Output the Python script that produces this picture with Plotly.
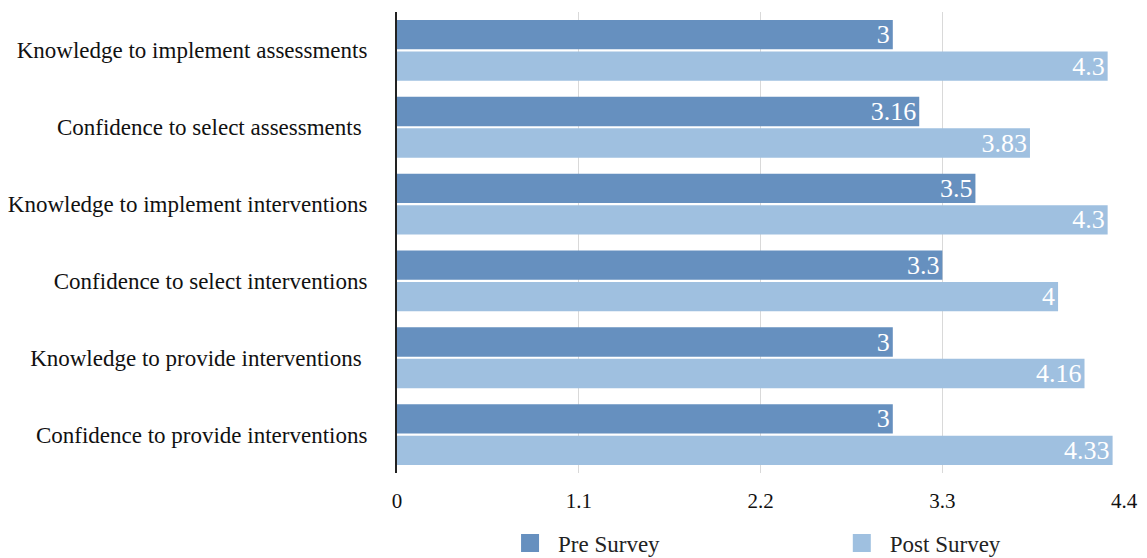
import plotly.graph_objects as go

categories = [
    "Knowledge to implement assessments",
    "Confidence to select assessments ",
    "Knowledge to implement interventions",
    "Confidence to select interventions",
    "Knowledge to provide interventions ",
    "Confidence to provide interventions",
]
pre_survey = [3, 3.16, 3.5, 3.3, 3, 3]
post_survey = [4.3, 3.83, 4.3, 4, 4.16, 4.33]
x_ticks = [0, 1.1, 2.2, 3.3, 4.4]
x_tick_labels = ["0", "1.1", "2.2", "3.3", "4.4"]

FONT = "Liberation Serif"
PRE_COLOR = "#6690BF"
POST_COLOR = "#9FC0E0"

fig = go.Figure()
for name, vals, color in [("Pre Survey", pre_survey, PRE_COLOR),
                          ("Post Survey", post_survey, POST_COLOR)]:
    fig.add_trace(go.Bar(
        y=categories, x=vals, orientation="h", name=name,
        marker=dict(color=color, line=dict(width=0)),
        text=[f"{v:g}" for v in vals], textposition="inside",
        insidetextanchor="end", textangle=0, constraintext="none",
        textfont=dict(family=FONT, size=26, color="white"),
        showlegend=False, cliponaxis=False,
    ))
# legend entries (one legend box per series, positioned like the original)
for name, color, leg in [("Pre Survey", PRE_COLOR, "legend"),
                         ("Post Survey", POST_COLOR, "legend2")]:
    fig.add_trace(go.Scatter(
        x=[None], y=[None], mode="markers", name=name, legend=leg,
        marker=dict(symbol="square", size=20, color=color,
                    line=dict(width=2, color=color)),
        showlegend=True,
    ))

legend_common = dict(
    orientation="h", xanchor="left", yanchor="middle", y=-0.152,
    font=dict(family=FONT, size=23, color="#222"),
    itemwidth=46, bgcolor="rgba(0,0,0,0)",
)

fig.update_layout(
    width=1147, height=558,
    paper_bgcolor="white", plot_bgcolor="white",
    margin=dict(l=397, r=22, t=12, b=85, autoexpand=False),
    barmode="group", bargap=0.18, bargroupgap=0.07,
    font=dict(family=FONT, size=22, color="#111"),
    showlegend=True,
    legend=dict(x=0.1443, **legend_common),
    legend2=dict(x=0.600, **legend_common),
    xaxis=dict(
        range=[0, 4.405], tickvals=x_ticks, ticktext=x_tick_labels,
        showgrid=True, gridcolor="#d9d9d9", gridwidth=1,
        zeroline=False, showline=False, ticks="", ticklabelstandoff=13,
        tickfont=dict(family=FONT, size=21, color="#111"),
    ),
    yaxis=dict(
        autorange="reversed", showgrid=False, zeroline=False,
        showline=True, linecolor="#222", linewidth=2,
        ticks="", ticklabelstandoff=23,
        tickfont=dict(family=FONT, size=23, color="#111"),
    ),
)

fig.write_html("out.html")
